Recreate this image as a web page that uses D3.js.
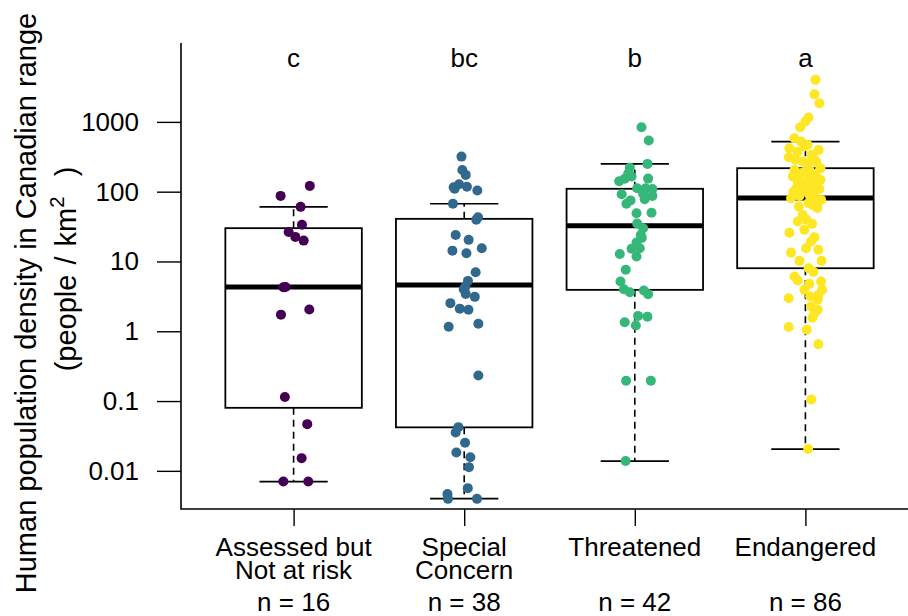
<!DOCTYPE html>
<html>
<head>
<meta charset="utf-8">
<script src="https://cdn.jsdelivr.net/npm/d3@7"></script>
<style>
  html, body { margin: 0; padding: 0; background: #fff; }
  svg { display: block; font-family: "Liberation Sans", Arial, Helvetica, sans-serif; }
</style>
</head>
<body>
<svg id="chart" width="908" height="616"></svg>
<script>
// ---------------- DATA ----------------
const categories = ["Assessed but\nNot at risk", "Special\nConcern", "Threatened", "Endangered"];
const sampleSizes = [16, 38, 42, 86];
const groupLetters = ["c", "bc", "b", "a"];
const colors = ["#440154", "#31688E", "#35B779", "#FDE725"];
const yTicks = [0.01, 0.1, 1, 10, 100, 1000];
const yTickLabels = ["0.01", "0.1", "1", "10", "100", "1000"];

// box statistics (people / km^2)
const whiskerLow  = [0.007, 0.004, 0.0138, 0.0205];
const q1          = [0.08, 0.042, 3.92, 8.0];
const medians     = [4.3, 4.6, 32.4, 81.5];
const q3          = [30, 40.8, 110, 217];
const whiskerHigh = [60.6, 67, 250, 522];

// individual species (value, horizontal jitter in category units)
const assessedValues = [87, 121, 60.6, 33.5, 26.5, 22.5, 19.9, 4.28, 1.73, 2.05, 0.114, 0.0467, 0.0152, 0.00703, 0.00703, 4.3];
const assessedJitter = [-0.076, 0.095, 0.041, 0.049, -0.029, 0.010, 0.059, -0.060, -0.074, 0.092, -0.051, 0.080, 0.047, -0.060, 0.086, -0.047];

const specialValues = [318, 205, 174, 128, 110, 118, 104, 67, 43, 39.5, 24, 20.4, 14.3, 13.1, 15.5, 7.0, 5.27, 4.0, 3.43, 3.11,
  2.53, 2.11, 2.03, 1.16, 1.28, 0.232, 0.0423, 0.0354, 0.0252, 0.0183, 0.0157, 0.0113, 0.00565, 0.00464, 0.00397, 0.00397, 4.37, 116];
const specialJitter = [-0.016, -0.011, 0.009, -0.030, -0.056, 0.016, 0.077, -0.066, 0.081, 0.071, -0.050, 0.026, -0.069, 0.013, 0.103, 0.067, 0.022, -0.003, 0.009, 0.062,
  -0.081, -0.026, 0.025, -0.091, 0.083, 0.083, -0.034, -0.050, 0.005, -0.046, 0.036, 0.028, 0.021, -0.098, -0.095, 0.075, 0.007, -0.062];

const threatenedValues = [840, 540, 250, 221, 180, 141, 153, 154, 112, 112, 109, 92, 93, 87, 78, 75, 67, 49, 50, 35, 30,
  24, 18.7, 15.2, 15.5, 11.8, 12.8, 7.6, 5.15, 4.0, 3.63, 3.83, 3.40, 1.66, 1.62, 1.35, 1.21, 0.195, 0.196, 0.0138, 165, 21.8];
const threatenedJitter = [0.039, 0.082, 0.074, -0.029, -0.039, -0.092, -0.059, 0.078, 0.014, 0.064, 0.103, -0.077, 0.049, 0.103, 0.058, -0.025, -0.049, 0.010, 0.098, 0.014, 0.049,
  0.035, 0.010, -0.019, 0.029, 0.010, -0.088, -0.053, -0.084, -0.064, -0.029, 0.053, 0.078, 0.019, 0.074, -0.059, 0.006, -0.051, 0.094, -0.054, -0.019, 0.041];

const endangeredValues = [4000, 2495, 1853, 1153, 1010, 840, 584, 522, 420, 397, 443, 312, 302, 270, 217, 205, 205, 184, 165, 168, 148,
  140, 132, 112, 121, 109, 100, 80.7, 90, 80.7, 76.3, 61.2, 64.7, 68.4, 46.5, 37.3, 34.6, 28.4, 25.9, 22.3, 19.3, 15.5, 13.4,
  10.2, 10.2, 8.0, 6.08, 5.33, 4.78, 5.15, 3.92, 3.14, 2.98, 2.82, 2.26, 2.03, 1.82, 1.15, 1.05, 0.653, 0.105, 0.0205,
  468, 372, 337, 286, 259, 267, 192, 180, 158, 148, 129, 125, 99, 106, 96, 87, 69, 58.6, 39.5, 14.7, 7.1, 3.92, 3.32, 1.56];
const endangeredJitter = [0.059, 0.053, 0.082, 0.018, 0.000, -0.031, -0.064, -0.025, -0.094, 0.078, -0.006, -0.098, 0.049, -0.016, 0.088, -0.064, 0.023, -0.025, -0.074, 0.043, 0.088,
  -0.045, 0.004, -0.054, 0.023, 0.082, -0.025, -0.084, 0.023, 0.053, 0.092, -0.039, 0.043, 0.053, -0.016, -0.045, 0.039, -0.006, -0.094, 0.053, 0.033, 0.004, -0.084,
  -0.035, 0.095, 0.019, -0.064, -0.045, 0.023, 0.092, 0.098, 0.028, -0.098, 0.072, 0.033, 0.072, 0.053, -0.098, 0.008, 0.076, 0.035, 0.016,
  0.012, -0.047, 0.035, -0.059, 0.012, 0.064, -0.006, 0.059, -0.041, 0.018, -0.018, 0.064, -0.070, 0.000, 0.047, -0.035, 0.018, 0.070, 0.006, 0.076, 0.047, -0.006, 0.076, 0.041];

const groupValues = [assessedValues, specialValues, threatenedValues, endangeredValues];
const groupJitter = [assessedJitter, specialJitter, threatenedJitter, endangeredJitter];

// ---------------- CHART ----------------
const svg = d3.select("#chart");
const W = 908, H = 616;
const plotLeft = 181, plotTop = 43, plotBottom = 509;
const FS = 26, FS_TITLE = 29;

const x = d3.scaleLinear().domain([0.34, 4.66]).range([plotLeft, 918]);
const y = d3.scaleLog().domain([0.00284, 13500]).range([plotBottom, plotTop]);

const boxW = 0.8, capW = 0.4;

// frame (left + bottom)
svg.append("path")
  .attr("d", `M${plotLeft},${plotTop}V${plotBottom}H${W + 5}`)
  .attr("fill", "none").attr("stroke", "#000").attr("stroke-width", 1.6);

// y axis
const yAxis = d3.axisLeft(y).tickValues(yTicks).tickSize(24).tickPadding(18)
  .tickFormat((d, i) => yTickLabels[i]);
const gy = svg.append("g").attr("transform", `translate(${plotLeft},0)`).call(yAxis);
gy.select(".domain").remove();
gy.selectAll("line").attr("stroke", "#000").attr("stroke-width", 1.4);
gy.selectAll("text").attr("font-size", FS).attr("fill", "#000")
  .attr("font-family", "Liberation Sans, Arial, sans-serif");

// x axis ticks
const xAxis = d3.axisBottom(x).tickValues([1, 2, 3, 4]).tickSize(17).tickFormat("");
const gx = svg.append("g").attr("transform", `translate(0,${plotBottom})`).call(xAxis);
gx.select(".domain").remove();
gx.selectAll("line").attr("stroke", "#000").attr("stroke-width", 1.4);

// category labels
categories.forEach((c, i) => {
  const lines = c.split("\n");
  const t = svg.append("text").attr("x", x(i + 1)).attr("y", 556)
    .attr("text-anchor", "middle").attr("font-size", FS);
  lines.forEach((ln, j) => {
    t.append("tspan").attr("x", x(i + 1)).attr("dy", j === 0 ? 0 : 23).text(ln);
  });
  svg.append("text").attr("x", x(i + 1)).attr("y", 611)
    .attr("text-anchor", "middle").attr("font-size", FS).text("n = " + sampleSizes[i]);
  svg.append("text").attr("x", x(i + 1)).attr("y", 67)
    .attr("text-anchor", "middle").attr("font-size", FS).text(groupLetters[i]);
});

// boxes
const boxes = svg.append("g");
categories.forEach((c, i) => {
  const cx = i + 1;
  const g = boxes.append("g");
  g.append("line").attr("x1", x(cx)).attr("x2", x(cx)).attr("y1", y(q3[i])).attr("y2", y(whiskerHigh[i]))
    .attr("stroke", "#000").attr("stroke-width", 1.6).attr("stroke-dasharray", "7,5");
  g.append("line").attr("x1", x(cx)).attr("x2", x(cx)).attr("y1", y(q1[i])).attr("y2", y(whiskerLow[i]))
    .attr("stroke", "#000").attr("stroke-width", 1.6).attr("stroke-dasharray", "7,5");
  [whiskerHigh[i], whiskerLow[i]].forEach(v => {
    g.append("line").attr("x1", x(cx - capW / 2)).attr("x2", x(cx + capW / 2)).attr("y1", y(v)).attr("y2", y(v))
      .attr("stroke", "#000").attr("stroke-width", 1.6);
  });
  g.append("rect").attr("x", x(cx - boxW / 2)).attr("width", x(cx + boxW / 2) - x(cx - boxW / 2))
    .attr("y", y(q3[i])).attr("height", y(q1[i]) - y(q3[i]))
    .attr("fill", "#fff").attr("stroke", "#000").attr("stroke-width", 1.8);
  g.append("line").attr("x1", x(cx - boxW / 2)).attr("x2", x(cx + boxW / 2)).attr("y1", y(medians[i])).attr("y2", y(medians[i]))
    .attr("stroke", "#000").attr("stroke-width", 5);
});

// points
const pts = svg.append("g");
groupValues.forEach((vals, i) => {
  pts.selectAll(null).data(vals.map((v, k) => ({ v, j: groupJitter[i][k] })))
    .enter().append("circle")
    .attr("cx", d => x(i + 1 + d.j)).attr("cy", d => y(d.v)).attr("r", 5)
    .attr("fill", colors[i]);
});

// y-axis title
svg.append("text").attr("transform", "translate(36,303) rotate(-90)")
  .attr("text-anchor", "middle").attr("font-size", FS_TITLE)
  .text("Human population density in Canadian range");
const t2 = svg.append("text").attr("transform", "translate(76,269) rotate(-90)")
  .attr("text-anchor", "middle").attr("font-size", FS_TITLE).attr("word-spacing", 2);
t2.append("tspan").text("(people / km");
t2.append("tspan").attr("font-size", FS_TITLE * 0.7).attr("dy", -12).text("2");
t2.append("tspan").attr("dy", 12).text("\u00a0\u00a0)");
</script>
</body>
</html>
